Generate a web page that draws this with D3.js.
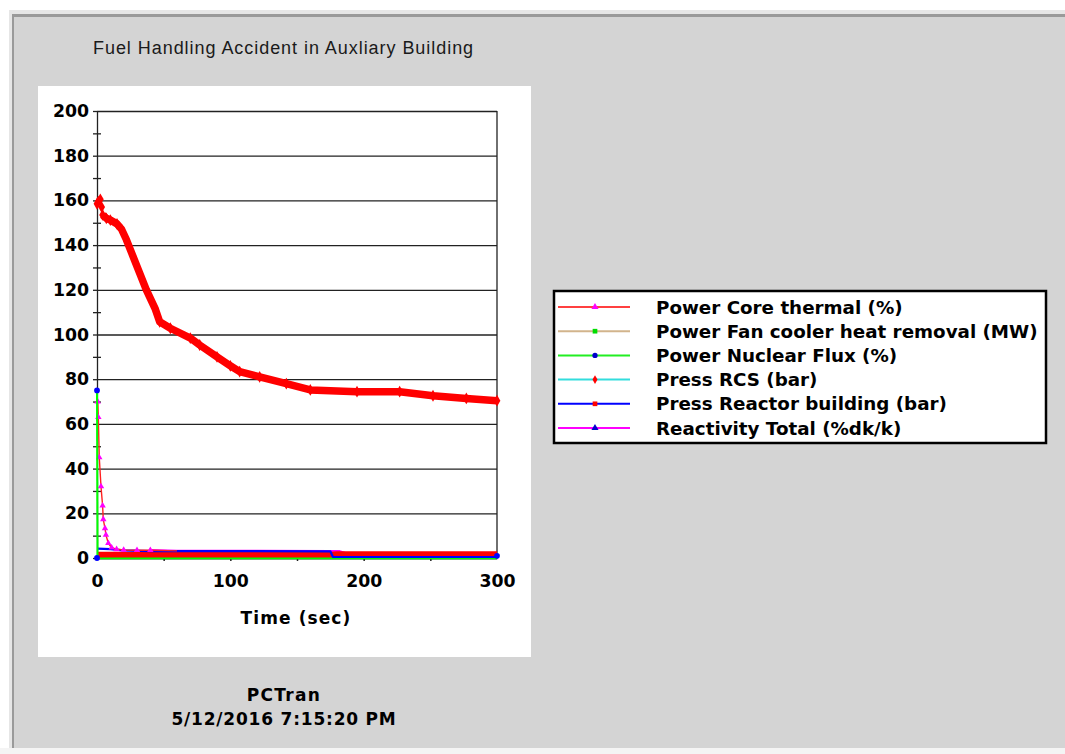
<!DOCTYPE html>
<html><head><meta charset="utf-8">
<script src="https://cdn.jsdelivr.net/npm/d3@7"></script>
<style>body{margin:0;background:#fff;overflow:hidden}svg{display:block}</style>
</head><body>
<script>
// ---------- data ----------
const title = "Fuel Handling Accident in Auxliary Building";
const xTicks = [0, 100, 200, 300];
const xMinor = [50, 100, 150, 200, 250];
const yTicks = [0, 20, 40, 60, 80, 100, 120, 140, 160, 180, 200];
const yMinor = [10, 30, 50, 70, 90, 110, 130, 150, 170, 190];
const seriesNames = ["Power Core thermal (%)", "Power Fan cooler heat removal (MW)", "Power Nuclear Flux (%)", "Press RCS (bar)", "Press Reactor building (bar)", "Reactivity Total (%dk/k)"];

const tRCS = [0, 1, 2.5, 3.5, 4.2, 7, 10, 15, 18.5, 22, 27, 32, 37, 43.5, 47, 55, 70, 77, 90, 100, 107, 122, 142, 160, 195, 227, 252, 277, 300];
const vRCS = [158.5, 159.5, 160.5, 157, 153.5, 152, 151.2, 149.5, 147, 142.5, 135, 127.5, 120, 111.7, 105.7, 102.8, 98.4, 95.3, 90, 86, 83.4, 81, 78, 75.2, 74.4, 74.4, 72.6, 71.4, 70.4];

const tCore = [0.5, 1, 1.7, 3, 4.2, 4.7, 6, 6.7, 8.5, 11, 14.7, 20, 30, 40, 60, 120, 176, 182, 190, 300];
const vCore = [70, 63, 45, 32, 23.4, 17.3, 13.3, 10.3, 6.6, 4.6, 3.9, 3.6, 3.5, 3.5, 3.2, 3.1, 3.0, 3.0, 1.5, 1.5];

const tFan = [0, 300];
const vFan = [0, 0];

const tFlux = [0, 0.4, 300];
const vFlux = [75, 0, 0];

const tBuild = [0, 176, 180, 300];
const vBuild = [1.5, 1.5, 1.8, 1.8];

const tReact = [0, 10, 20, 40, 175, 177, 300];
const vReact = [4.2, 4.0, 3.4, 3.1, 3.0, 0.45, 0.45];

const footer1 = "PCTran";
const footer2 = "5/12/2016 7:15:20 PM";

// ---------- drawing ----------
const W = 1065, H = 754;
const svg = d3.select("body").append("svg").attr("width", W).attr("height", H);

// window frame
svg.append("rect").attr("x", 0).attr("y", 0).attr("width", W).attr("height", H).attr("fill", "#ffffff");
svg.append("rect").attr("x", 9).attr("y", 10).attr("width", W - 9).attr("height", 740).attr("fill", "#e6e6e6");
svg.append("rect").attr("x", 12).attr("y", 14).attr("width", W - 12).attr("height", 734).attr("fill", "#9a9a9a");
svg.append("rect").attr("x", 14).attr("y", 17).attr("width", W - 14).attr("height", 731).attr("fill", "#d4d4d4");
svg.append("rect").attr("x", 0).attr("y", 748).attr("width", W).attr("height", 6).attr("fill", "#f4f4f4");

svg.append("text").attr("x", 93).attr("y", 54).text(title)
  .attr("font-family", "Liberation Sans, Arial, sans-serif").attr("font-size", 18)
  .attr("letter-spacing", 0.95).attr("fill", "#1a1a1a");

// white chart panel
svg.append("rect").attr("x", 38).attr("y", 86).attr("width", 493).attr("height", 571).attr("fill", "#ffffff");

const x = d3.scaleLinear().domain([0, 300]).range([97, 497]);
const y = d3.scaleLinear().domain([0, 200]).range([558, 111]);

const boldFont = "DejaVu Sans, sans-serif";
const gridCol = "#222";

// gridlines
svg.append("g").attr("transform", "translate(97,0)")
  .call(d3.axisRight(y).tickValues(yTicks).tickSize(400).tickFormat(""))
  .call(g => g.select(".domain").remove())
  .call(g => g.selectAll("line").attr("stroke", gridCol).attr("stroke-width", 1.3));

// y axis major
const yAx = svg.append("g").attr("transform", "translate(97,0)")
  .call(d3.axisLeft(y).tickValues(yTicks).tickSize(4).tickPadding(4).tickSizeOuter(0));
yAx.select(".domain").attr("stroke", gridCol).attr("stroke-width", 1.3);
yAx.selectAll("line").attr("stroke", gridCol).attr("stroke-width", 1.3);
yAx.selectAll("text").attr("font-family", boldFont).attr("font-weight", "bold").attr("font-size", 17.3).attr("fill", "#000");

// y minor ticks crossing axis
svg.append("g").attr("transform", "translate(97,0)")
  .call(d3.axisLeft(y).tickValues(yMinor).tickSize(4).tickFormat(""))
  .call(g => g.select(".domain").remove())
  .call(g => g.selectAll("line").attr("stroke", gridCol).attr("stroke-width", 1.3));
svg.append("g").attr("transform", "translate(97,0)")
  .call(d3.axisRight(y).tickValues(yMinor).tickSize(4).tickFormat(""))
  .call(g => g.select(".domain").remove())
  .call(g => g.selectAll("line").attr("stroke", gridCol).attr("stroke-width", 1.3));

// right border
svg.append("line").attr("x1", x(300)).attr("x2", x(300)).attr("y1", y(200)).attr("y2", y(0))
  .attr("stroke", gridCol).attr("stroke-width", 1.3);

// x axis
const xAx = svg.append("g").attr("transform", "translate(0,558)")
  .call(d3.axisBottom(x).tickValues(xTicks).tickSize(0).tickPadding(17).tickSizeOuter(0));
xAx.select(".domain").attr("stroke", gridCol).attr("stroke-width", 1.3);
xAx.selectAll("text").attr("font-family", boldFont).attr("font-weight", "bold").attr("font-size", 17.3).attr("fill", "#000");
svg.append("g").attr("transform", "translate(0,558)")
  .call(d3.axisBottom(x).tickValues(xMinor).tickSize(3).tickFormat(""))
  .call(g => g.select(".domain").remove())
  .call(g => g.selectAll("line").attr("stroke", gridCol).attr("stroke-width", 1.5));

svg.append("text").attr("x", 296).attr("y", 624).attr("text-anchor", "middle").text("Time (sec)")
  .attr("font-family", boldFont).attr("font-weight", "bold").attr("font-size", 17).attr("letter-spacing", 1.1);

// ---------- series ----------
const plot = svg.append("g");
const pts = (ts, vs) => ts.map((t, i) => [x(t), y(vs[i])]);
const lineGen = d3.line();
function band(ts, vs, color, w) {
  plot.append("path").attr("d", lineGen(pts(ts, vs))).attr("fill", "none")
    .attr("stroke", color).attr("stroke-width", w).attr("stroke-linejoin", "round");
}
const shapes = { triangle: d3.symbolTriangle, square: d3.symbolSquare, circle: d3.symbolCircle, diamond: d3.symbolDiamond };
function markers(g, ts, vs, shape, color, size) {
  g.selectAll(null).data(pts(ts, vs)).join("path")
    .attr("transform", d => `translate(${d[0]},${d[1]})`)
    .attr("d", d3.symbol(shapes[shape], size)).attr("fill", color);
}

// fan cooler (green band at 0)
band(tFan, vFan, "#00ff00", 2.6);
// core thermal magenta band
band(tCore.slice(13), vCore.slice(13), "#ff00ff", 2.4);
// press reactor building: red band
band(tBuild, vBuild, "#ff0000", 5.6);
// reactivity: blue band
band(tReact, vReact, "#0000ff", 2.2);
// core thermal decay line + magenta markers
band(tCore.slice(0, 15), vCore.slice(0, 15), "#ff2020", 1.4);
markers(plot, tCore.slice(0, 14), vCore.slice(0, 14), "triangle", "#ff00ff", 18);
// nuclear flux
band(tFlux.slice(0, 2), vFlux.slice(0, 2), "#00ff00", 2);
markers(plot, [tFlux[0], tFlux[0], tFlux[2]], [vFlux[0], 0, 1.0], "circle", "#0000ff", 26);
// press RCS: red thick band + diamond markers
band(tRCS.slice(4), vRCS.slice(4), "#ff0000", 7.5);
markers(plot, tRCS, vRCS, "diamond", "#ff0000", 40);

// ---------- legend ----------
const lg = svg.append("g");
lg.append("rect").attr("x", 554).attr("y", 291).attr("width", 492).attr("height", 152)
  .attr("fill", "#fff").attr("stroke", "#000").attr("stroke-width", 2.5);
const legLine = ["#ff4040", "#d2b48c", "#22ee22", "#33dddd", "#0000ff", "#ff00ff"];
const legMark = [["triangle", "#ff00ff"], ["square", "#00dd00"], ["circle", "#0000cc"], ["diamond", "#ff0000"], ["square", "#ff0000"], ["triangle", "#0000cc"]];
const legY = d3.scaleLinear().domain([0, 5]).range([307, 428]);
seriesNames.forEach((name, i) => {
  const yy = legY(i);
  lg.append("line").attr("x1", 558).attr("x2", 630).attr("y1", yy).attr("y2", yy)
    .attr("stroke", legLine[i]).attr("stroke-width", 2);
  lg.append("path").attr("transform", `translate(595,${yy})`)
    .attr("d", d3.symbol(shapes[legMark[i][0]], 22)).attr("fill", legMark[i][1]);
  lg.append("text").attr("x", 656).attr("y", yy + 6.5).text(name)
    .attr("font-family", boldFont).attr("font-weight", "bold").attr("font-size", 18.3).attr("fill", "#000");
});

// footer
svg.append("text").attr("x", 284).attr("y", 701).attr("text-anchor", "middle").text(footer1)
  .attr("font-family", boldFont).attr("font-weight", "bold").attr("font-size", 17).attr("letter-spacing", 1.3);
svg.append("text").attr("x", 284).attr("y", 725).attr("text-anchor", "middle").text(footer2)
  .attr("font-family", boldFont).attr("font-weight", "bold").attr("font-size", 17).attr("letter-spacing", 0.8);
</script>
</body></html>
